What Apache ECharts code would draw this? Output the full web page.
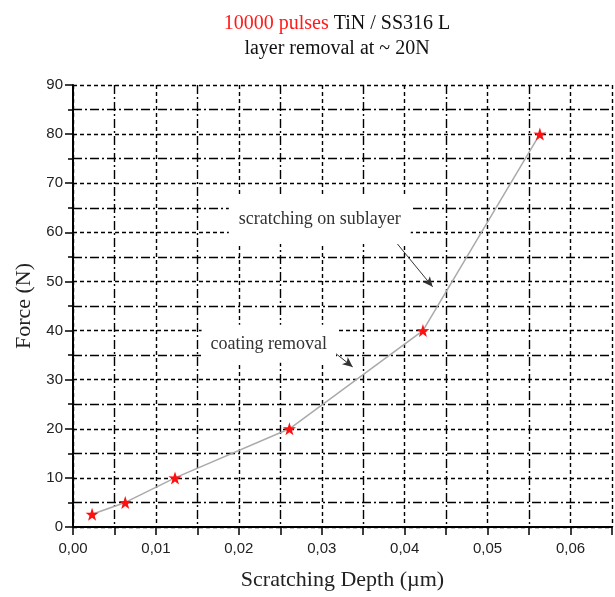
<!DOCTYPE html>
<html><head><meta charset="utf-8">
<script src="https://cdn.jsdelivr.net/npm/echarts@6/dist/echarts.min.js"></script>
<style>html,body{margin:0;padding:0;background:#fff}#c{width:615px;height:597px}</style>
</head><body><div id="c"></div>
<script>
var depth = [0.0023, 0.0063, 0.0123, 0.0261, 0.0422, 0.0563];
var force = [2.6, 5, 10, 20, 40, 80];
var xTicks = [0, 0.01, 0.02, 0.03, 0.04, 0.05, 0.06];
var yTicks = [0, 10, 20, 30, 40, 50, 60, 70, 80, 90];
var notes = [
  {text: 'scratching on sublayer', at: [0.02976, 62.7], from: [0.03904, 57.8], to: [0.04337, 48.9], pad: [16, 10]},
  {text: 'coating removal', at: [0.02361, 37.3], from: [0.03133, 35.8], to: [0.03373, 32.6], pad: [10, 9]}
];

var chart = echarts.init(document.getElementById('c'));
var serif = '"Liberation Serif", "DejaVu Serif", serif';
var sans = '"Liberation Sans", Arial, sans-serif';
var dashMajor = [4, 3];
var dashMinor = [9, 3, 2, 3];
chart.setOption({
  animation: false,
  title: {
    text: '{r|10000 pulses} TiN / SS316 L\nlayer removal at ~ 20N',
    left: 332, top: 6, textAlign: 'center',
    textStyle: {
      fontFamily: serif, fontSize: 20, fontWeight: 'normal', color: '#111', lineHeight: 25,
      rich: {r: {color: '#ff1a1a', fontFamily: serif, fontSize: 20, lineHeight: 25}}
    }
  },
  grid: {left: 73, right: 2, top: 85, bottom: 70},
  xAxis: {
    type: 'value', min: 0, max: 0.065, interval: 0.01,
    name: 'Scratching Depth (\u00b5m)', nameLocation: 'middle', nameGap: 42,
    nameTextStyle: {fontFamily: serif, fontSize: 22, color: '#222'},
    axisLine: {lineStyle: {color: '#000', width: 2}},
    axisTick: {show: true, length: 8, lineStyle: {color: '#000', width: 1.5}},
    minorTick: {show: true, splitNumber: 2, length: 8, lineStyle: {color: '#000', width: 1.5}},
    axisLabel: {
      fontFamily: sans, fontSize: 15, color: '#222', margin: 14,
      formatter: function (v) {
        for (var i = 0; i < xTicks.length; i++) if (Math.abs(v - xTicks[i]) < 1e-9) return xTicks[i].toFixed(2).replace('.', ',');
        return '';
      }
    },
    splitLine: {show: true, lineStyle: {color: '#000', width: 1.4, type: dashMajor}},
    minorSplitLine: {show: true, lineStyle: {color: '#000', width: 1.4, type: dashMinor}}
  },
  yAxis: {
    type: 'value', min: 0, max: 90, interval: 10,
    name: 'Force (N)', nameLocation: 'middle', nameGap: 38,
    nameTextStyle: {fontFamily: serif, fontSize: 22, color: '#222'},
    axisLine: {show: true, lineStyle: {color: '#000', width: 2}},
    axisTick: {show: true, length: 8, lineStyle: {color: '#000', width: 1.5}},
    minorTick: {show: true, splitNumber: 2, length: 5, lineStyle: {color: '#000', width: 1.5}},
    axisLabel: {
      fontFamily: sans, fontSize: 15, color: '#222', margin: 10,
      formatter: function (v) { return yTicks.indexOf(v) >= 0 ? String(v) : ''; }
    },
    splitLine: {show: true, lineStyle: {color: '#000', width: 1.4, type: dashMajor}},
    minorSplitLine: {show: true, lineStyle: {color: '#000', width: 1.4, type: dashMinor}}
  },
  series: [{
    type: 'line',
    data: depth.map(function (d, i) { return [d, force[i]]; }),
    symbol: 'path://M50,0 L61.8,35.3 L97.6,34.5 L69,56.4 L79.4,90.5 L50,70 L20.6,90.5 L31,56.4 L2.4,34.5 L38.2,35.3 Z',
    symbolSize: 13,
    itemStyle: {color: '#ff1010'},
    lineStyle: {color: '#aaaaaa', width: 1.5},
    z: 5,
    markPoint: {
      symbol: 'circle', symbolSize: 0, silent: true,
      label: {show: true, position: 'inside', fontFamily: serif, fontSize: 18, color: '#333', backgroundColor: '#fff'},
      data: notes.map(function (n) {
        return {coord: n.at, label: {formatter: n.text, padding: n.pad}};
      })
    },
    markLine: {
      silent: true, symbol: ['none', 'arrow'], symbolSize: [7, 10],
      label: {show: false},
      lineStyle: {color: '#333', width: 1, type: 'solid'},
      data: notes.map(function (n) { return [{coord: n.from}, {coord: n.to}]; })
    }
  }]
});
</script></body></html>
